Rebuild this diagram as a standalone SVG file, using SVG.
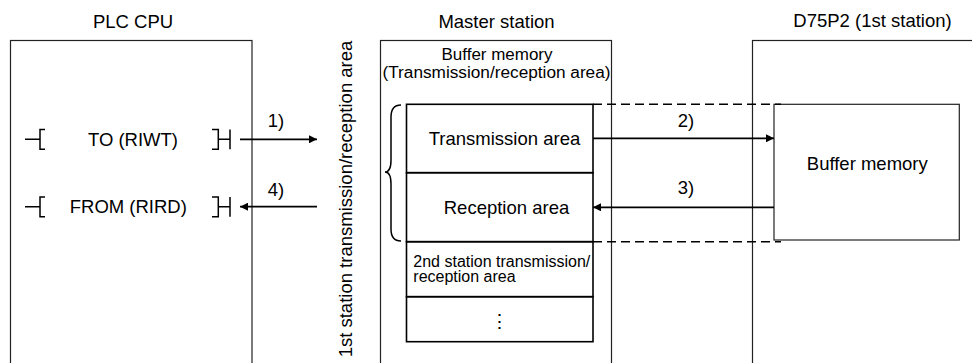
<svg xmlns="http://www.w3.org/2000/svg" width="972" height="363" viewBox="0 0 972 363">
<style>
text{font-family:"Liberation Sans",Arial,sans-serif;fill:#000}
.t{font-size:18.5px}
.m{text-anchor:middle}
.h{font-size:16px}
.s{font-size:16px}
.box{fill:#fff;stroke:#222;stroke-width:1.2}
.ib{fill:none;stroke:#000;stroke-width:1.6}
.lad{fill:none;stroke:#000;stroke-width:1.5}
.arr{stroke:#000;stroke-width:1.8;fill:none}
.dash{stroke:#000;stroke-width:1.6;stroke-dasharray:9 5;fill:none}
</style>
<defs>
<marker id="ah" viewBox="0 0 10 10" refX="10" refY="5" markerWidth="9" markerHeight="8" markerUnits="userSpaceOnUse" orient="auto">
<path d="M0,0 L10,5 L0,10 z" fill="#000"/>
</marker>
</defs>
<rect width="972" height="363" fill="#fff"/>

<g id="plc-cpu">
<text class="t m" x="133" y="28">PLC CPU</text>
<rect class="box" x="10.5" y="40.5" width="241.5" height="340"/>
<g id="to-riwt">
<path class="lad" d="M25,139.3 H40 M45,129.5 H40 V149.3 H45"/>
<text class="t m" x="133" y="146">TO (RIWT)</text>
<path class="lad" d="M212,129.5 H218.3 V149.3 H212 M218.3,139.3 H230 M230,129.5 V149.3"/>
</g>
<g id="from-rird">
<path class="lad" d="M25,206.7 H40 M45,196.9 H40 V216.7 H45"/>
<text class="t m" x="128.3" y="213">FROM (RIRD)</text>
<path class="lad" d="M212,196.9 H218.3 V216.7 H212 M218.3,206.7 H230 M230,196.9 V216.7"/>
</g>
</g>

<g id="first-station-label">
<text class="t m" transform="translate(352,199) rotate(-90)">1st station transmission/reception area</text>
</g>

<g id="master-station">
<text class="t m" x="496.5" y="28">Master station</text>
<rect class="box" x="380.5" y="40.5" width="231" height="340"/>
<text class="h m" x="497" y="60" textLength="111" lengthAdjust="spacingAndGlyphs">Buffer memory</text>
<text class="h m" x="496.5" y="78" textLength="228" lengthAdjust="spacingAndGlyphs">(Transmission/reception area)</text>
<path class="lad" d="M401,105 Q391,105 391,117 L391,160 Q391,172 385,172 Q391,172 391,184 L391,229 Q391,241 401,241" stroke-width="1.2"/>
<g id="transmission-area">
<rect class="ib" x="406.5" y="104.3" width="186.5" height="68.4"/>
<text class="t m" x="504.5" y="145">Transmission area</text>
</g>
<g id="reception-area">
<rect class="ib" x="406.5" y="172.7" width="186.5" height="69"/>
<text class="t m" x="506.5" y="214">Reception area</text>
</g>
<g id="second-station-area">
<rect class="ib" x="406.5" y="241.7" width="186.5" height="55"/>
<text class="s" x="413.3" y="266.5">2nd station transmission/</text>
<text class="s" x="413.3" y="282">reception area</text>
</g>
<g id="more-areas">
<rect class="ib" x="406.5" y="296.7" width="186.5" height="45"/>
<text x="499.5" y="328" font-family="DejaVu Sans, sans-serif" font-size="19" text-anchor="middle">⋮</text>
</g>
</g>

<g id="d75p2">
<text class="t m" x="872.5" y="27">D75P2 (1st station)</text>
<rect class="box" x="752.5" y="40.5" width="260" height="340"/>
<g id="d75p2-buffer">
<rect class="box" x="774" y="104.3" width="185.3" height="135.7"/>
<text class="t m" x="867.3" y="170">Buffer memory</text>
</g>
</g>

<g id="connectors">
<line class="arr" x1="240" y1="139.3" x2="317" y2="139.3" marker-end="url(#ah)"/>
<text class="t m" x="276" y="127">1)</text>
<line class="arr" x1="317" y1="206.7" x2="240" y2="206.7" marker-end="url(#ah)"/>
<text class="t m" x="276" y="196">4)</text>
<line class="arr" x1="593" y1="138.3" x2="774" y2="138.3" marker-end="url(#ah)"/>
<text class="t m" x="686" y="127">2)</text>
<line class="arr" x1="774" y1="207.3" x2="593" y2="207.3" marker-end="url(#ah)"/>
<text class="t m" x="686" y="194">3)</text>
<line class="dash" x1="593" y1="104.3" x2="781" y2="104.3"/>
<line class="dash" x1="593" y1="241.7" x2="781" y2="241.7"/>
</g>
</svg>
